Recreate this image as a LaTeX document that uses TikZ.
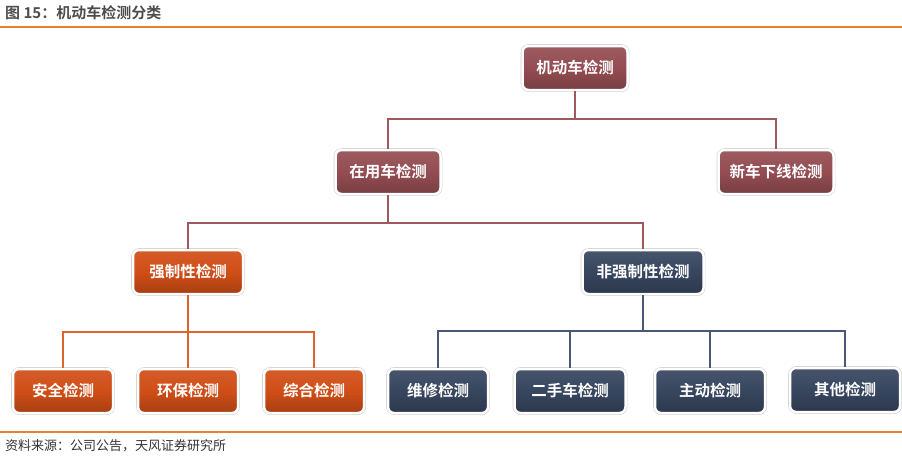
\documentclass[tikz,border=0pt]{standalone}
\usepackage{fontspec}
\setmainfont{Noto Sans CJK SC}
\newfontfamily\cjkbold{Noto Sans CJK SC Bold}
\usetikzlibrary{shadows}
\definecolor{cmaroon}{HTML}{944D52}
\definecolor{corange}{HTML}{D04E17}
\definecolor{cnavy}{HTML}{37465F}
\definecolor{lmaroon}{HTML}{A0585C}
\definecolor{lorange}{HTML}{E0632E}
\definecolor{lnavy}{HTML}{4A5873}
\definecolor{rule}{HTML}{E8822F}
\definecolor{titlegray}{HTML}{4D4D4D}
\tikzset{
  box/.style={rounded corners=6pt, draw=white, line width=2.5pt, minimum height=44pt,
    inner sep=0pt, font=\cjkbold\fontsize{15.5}{17}\selectfont, text=white,
    drop shadow={shadow xshift=0.8pt, shadow yshift=-1.5pt, opacity=0.35},
    preaction={draw=black!18, line width=3.6pt}},
  mbox/.style={box, top color=cmaroon!92!white, bottom color=cmaroon!80!black, middle color=cmaroon},
  obox/.style={box, top color=corange!92!white, bottom color=corange!80!black, middle color=corange},
  nbox/.style={box, top color=cnavy!92!white, bottom color=cnavy!80!black, middle color=cnavy},
  mline/.style={draw=lmaroon, line width=1.1pt},
  oline/.style={draw=lorange, line width=1.1pt},
  nline/.style={draw=lnavy, line width=1.1pt},
}
\begin{document}
\begin{tikzpicture}[x=1pt,y=-1pt]
\useasboundingbox (0,0) rectangle (902,458);
% title and rules
\node[anchor=west, inner sep=0pt, text=titlegray, font=\cjkbold\fontsize{15}{17}\selectfont] (title) at (5,13) {图 15：机动车检测分类};
\draw[rule, line width=1.2pt] (0,27) coordinate (r1a) -- (902,27) coordinate (r1b);
\draw[rule, line width=1.6pt] (0,432) coordinate (r2a) -- (902,432) coordinate (r2b);
\node[anchor=west, inner sep=0pt, text=black!80, font=\fontsize{13}{15}\selectfont] (src) at (5,446) {资料来源：公司公告，天风证券研究所};
% nodes
\node[mbox, minimum width=105pt] (root) at (575,68) {机动车检测};
\node[mbox, minimum width=105pt] (used) at (388,172) {在用车检测};
\node[mbox, minimum width=115pt] (new) at (776,172) {新车下线检测};
\node[obox, minimum width=110pt] (force) at (188,272) {强制性检测};
\node[nbox, minimum width=121pt] (nforce) at (643,272) {非强制性检测};
\node[obox, minimum width=100pt] (a1) at (63,391) {安全检测};
\node[obox, minimum width=100pt] (a2) at (188,391) {环保检测};
\node[obox, minimum width=100pt] (a3) at (314,391) {综合检测};
\node[nbox, minimum width=100pt] (b1) at (438,391) {维修检测};
\node[nbox, minimum width=111pt] (b2) at (570,391) {二手车检测};
\node[nbox, minimum width=110pt] (b3) at (710,391) {主动检测};
\node[nbox, minimum width=110pt] (b4) at (845,390) {其他检测};
% connectors
\draw[mline] (root.south) -- (root.south |- 0,119) -| (used.north);
\draw[mline] (root.south |- 0,119) -| (new.north);
\draw[mline] (used.south) -- (used.south |- 0,223) -| (force.north);
\draw[mline] (used.south |- 0,223) -| (nforce.north);
\draw[oline] (force.south) -- (a2.north);
\draw[oline] (force.south |- 0,332) -| (a1.north);
\draw[oline] (force.south |- 0,332) -| (a3.north);
\draw[nline] (nforce.south) -- (nforce.south |- 0,331) -| (b1.north);
\draw[nline] (nforce.south |- 0,331) -| (b2.north);
\draw[nline] (nforce.south |- 0,331) -| (b3.north);
\draw[nline] (nforce.south |- 0,331) -| (b4.north);
\end{tikzpicture}
\end{document}
